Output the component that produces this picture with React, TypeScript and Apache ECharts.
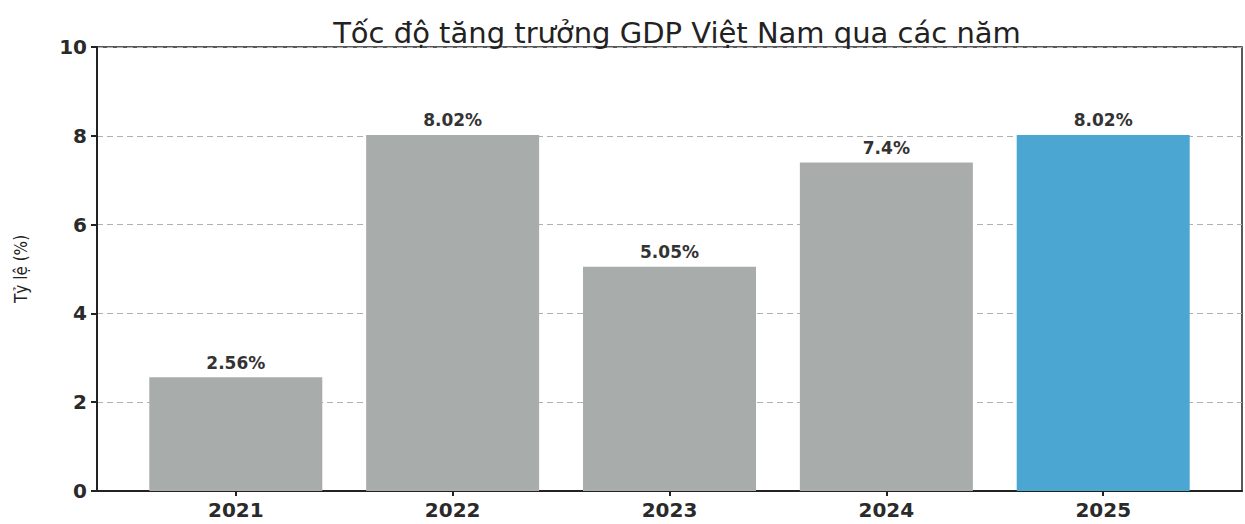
import React, { useEffect, useRef } from "react";
import * as echarts from "echarts";

const years = ["2021", "2022", "2023", "2024", "2025"];
const growth = [2.56, 8.02, 5.05, 7.4, 8.02];
const labels = ["2.56%", "8.02%", "5.05%", "7.4%", "8.02%"];
const barColors = ["#a8adab", "#a8adab", "#a8adab", "#a8adab", "#4ba6d1"];
const yTicks = [0, 2, 4, 6, 8, 10];

export default function App() {
  const ref = useRef<HTMLDivElement>(null);
  useEffect(() => {
    if (!ref.current) return;
    const chart = echarts.init(ref.current, null, { renderer: "svg" });
    const font = "'DejaVu Sans', sans-serif";
    chart.setOption({
      animation: false,
      backgroundColor: "#ffffff",
      title: {
        text: "Tốc độ tăng trưởng GDP Việt Nam qua các năm",
        left: 672,
        textAlign: "center",
        top: 13,
        textStyle: { fontFamily: font, fontSize: 29, fontWeight: "normal", color: "#222" },
      },
      grid: { left: 97, right: 3, top: 47, bottom: 33, show: true, borderColor: "#222", borderWidth: 1.5, backgroundColor: "transparent" },
      xAxis: {
        type: "value",
        min: -0.64,
        max: 4.64,
        axisLine: { show: true, onZero: false, lineStyle: { color: "#222", width: 2 } },
        axisTick: { show: true, customValues: [0, 1, 2, 3, 4], length: 5, lineStyle: { color: "#222", width: 2 } },
        axisLabel: {
          customValues: [0, 1, 2, 3, 4],
          formatter: (v: number) => years[Math.round(v)] ?? "",
          fontFamily: font,
          fontSize: 20,
          fontWeight: "bold",
          color: "#2a2a2a",
          margin: 9,
        },
        splitLine: { show: false },
      },
      yAxis: {
        type: "value",
        min: 0,
        max: 10,
        interval: 2,
        name: "Tỷ lệ (%)",
        nameLocation: "middle",
        nameGap: 68,
        nameTextStyle: { fontFamily: "'DejaVu Sans Condensed', 'DejaVu Sans', sans-serif", fontSize: 17, color: "#222" },
        axisLine: { show: true, onZero: false, lineStyle: { color: "#222", width: 2 } },
        axisTick: { show: true, length: 6, lineStyle: { color: "#222", width: 2 } },
        axisLabel: {
          formatter: (v: number) => (yTicks.includes(v) ? String(v) : ""),
          fontFamily: font,
          fontSize: 20,
          fontWeight: "bold",
          color: "#2a2a2a",
          margin: 10,
        },
        splitLine: { show: true, lineStyle: { color: "#b0b0b0", type: [6, 4], width: 1.2 } },
      },
      series: [
        {
          type: "bar",
          barWidth: 173,
          data: growth.map((v, i) => ({ value: [i, v], itemStyle: { color: barColors[i] } })),
          label: {
            show: true,
            position: "top",
            distance: 6,
            formatter: (p: any) => labels[p.dataIndex],
            fontFamily: font,
            fontSize: 17,
            fontWeight: "bold",
            color: "#333",
          },
        },
      ],
    });
    return () => chart.dispose();
  }, []);
  return <div ref={ref} style={{ width: 1245, height: 524, position: "absolute", left: 0, top: 0 }} />;
}
